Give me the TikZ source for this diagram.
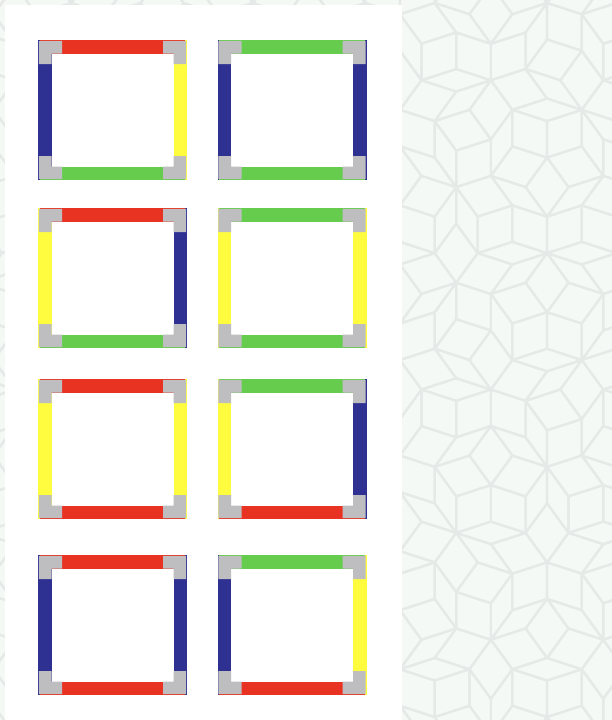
\documentclass[tikz,border=0pt]{standalone}
\usepackage{tikz}
\definecolor{tred}{RGB}{232,50,34}
\definecolor{tblue}{RGB}{46,49,146}
\definecolor{tyellow}{RGB}{255,252,64}
\definecolor{tgreen}{RGB}{102,204,78}
\definecolor{tgray}{RGB}{190,190,193}
\definecolor{bgfill}{RGB}{244,249,246}
\definecolor{bgline}{RGB}{229,233,231}
\makeatletter
\def\pgo{0.618034}
\def\pcx{400}\def\pcy{360}\def\pR{655}
\gdef\Tlist{}
\gdef\newlist{}
\def\addtri#1#2#3#4#5#6#7{%
  \pgfmathsetmacro\mnx{min(#2,#4,#6)}%
  \pgfmathsetmacro\mxx{max(#2,#4,#6)}%
  \pgfmathsetmacro\mny{min(#3,#5,#7)}%
  \pgfmathsetmacro\mxy{max(#3,#5,#7)}%
  \@tempswatrue
  \ifdim\mnx pt>620pt \@tempswafalse\fi
  \ifdim\mxx pt<-8pt \@tempswafalse\fi
  \ifdim\mny pt>728pt \@tempswafalse\fi
  \ifdim\mxy pt<-8pt \@tempswafalse\fi
  \ifdim\mnx pt>8pt \ifdim\mxx pt<398pt \ifdim\mny pt>8pt \@tempswafalse\fi\fi\fi
  \if@tempswa
    \xdef\newlist{\unexpanded\expandafter{\newlist}\noexpand\T{#1}{#2}{#3}{#4}{#5}{#6}{#7}}%
  \fi}
\def\subT#1#2#3#4#5#6#7{%
  \ifnum#1=0\relax
    \pgfmathsetmacro\Px{#2+((#4)-(#2))*\pgo}%
    \pgfmathsetmacro\Py{#3+((#5)-(#3))*\pgo}%
    \addtri{0}{#6}{#7}{\Px}{\Py}{#4}{#5}%
    \addtri{1}{\Px}{\Py}{#6}{#7}{#2}{#3}%
  \else
    \pgfmathsetmacro\Qx{#4+((#2)-(#4))*\pgo}%
    \pgfmathsetmacro\Qy{#5+((#3)-(#5))*\pgo}%
    \pgfmathsetmacro\Rx{#4+((#6)-(#4))*\pgo}%
    \pgfmathsetmacro\Ry{#5+((#7)-(#5))*\pgo}%
    \addtri{1}{\Rx}{\Ry}{#6}{#7}{#2}{#3}%
    \addtri{1}{\Qx}{\Qy}{\Rx}{\Ry}{#4}{#5}%
    \addtri{0}{\Rx}{\Ry}{\Qx}{\Qy}{#2}{#3}%
  \fi}
\def\subdivide{\gdef\newlist{}\let\T\subT\Tlist\global\let\Tlist\newlist}
\foreach \i in {0,...,9}{%
  \pgfmathsetmacro\Bx{\pcx+\pR*cos((2*\i-1)*18)}%
  \pgfmathsetmacro\By{\pcy+\pR*sin((2*\i-1)*18)}%
  \pgfmathsetmacro\Cx{\pcx+\pR*cos((2*\i+1)*18)}%
  \pgfmathsetmacro\Cy{\pcy+\pR*sin((2*\i+1)*18)}%
  \ifodd\i
    \xdef\Tlist{\unexpanded\expandafter{\Tlist}\noexpand\T{0}{\pcx}{\pcy}{\Bx}{\By}{\Cx}{\Cy}}%
  \else
    \xdef\Tlist{\unexpanded\expandafter{\Tlist}\noexpand\T{0}{\pcx}{\pcy}{\Cx}{\Cy}{\Bx}{\By}}%
  \fi
}
\subdivide\subdivide\subdivide\subdivide\subdivide\subdivide
\def\drawT#1#2#3#4#5#6#7{\draw[bgl] (#6,#7) -- (#2,#3) -- (#4,#5);}
\makeatother
\def\tlW{149}\def\tlH{140}\def\tlT{13.5}\def\tlC{24}\def\tlO{0.8}
\newcommand\tlcorner{%
  \fill[tgray] (\tlO,\tlO) -- (\tlC,\tlO) -- (\tlC,\tlT) -- (\tlT,\tlT) -- (\tlT,\tlC) -- (\tlO,\tlC) -- cycle;}
\newcommand\tilebox[7]{%
  \begin{scope}[shift={(#2,#3)}]
    \coordinate (#1) at (0,0);
    \fill[#7] (0,0) rectangle (\tlT,\tlH);
    \fill[#5] (\tlW-\tlT,0) rectangle (\tlW,\tlH);
    \fill[#4] (\tlO+1,0) rectangle (\tlW-\tlO-1,\tlT);
    \fill[#6] (\tlO+1,\tlH-\tlT) rectangle (\tlW-\tlO-1,\tlH);
    \tlcorner
    \begin{scope}[shift={(\tlW,0)},xscale=-1]\tlcorner\end{scope}
    \begin{scope}[shift={(0,\tlH)},yscale=-1]\tlcorner\end{scope}
    \begin{scope}[shift={(\tlW,\tlH)},xscale=-1,yscale=-1]\tlcorner\end{scope}
  \end{scope}}
\begin{document}
\begin{tikzpicture}[x=1pt,y=-1pt,
  bgl/.style={draw=bgline,line width=2.2pt,line cap=round,line join=round}]
\useasboundingbox (0,0) rectangle (612,720);
\fill[bgfill] (0,0) rectangle (612,720);
\begin{scope}
  \clip (0,0) rectangle (612,720);
  \let\T\drawT
  \Tlist
\end{scope}
\fill[white] (5,5) rectangle (402,720);
\tilebox{t11}{38}{40}{tred}{tyellow}{tgreen}{tblue}
\tilebox{t12}{217.5}{40}{tgreen}{tblue}{tgreen}{tblue}
\tilebox{t21}{38}{208}{tred}{tblue}{tgreen}{tyellow}
\tilebox{t22}{217.5}{208}{tgreen}{tyellow}{tgreen}{tyellow}
\tilebox{t31}{38}{379}{tred}{tyellow}{tred}{tyellow}
\tilebox{t32}{217.5}{379}{tgreen}{tblue}{tred}{tyellow}
\tilebox{t41}{38}{555}{tred}{tblue}{tred}{tblue}
\tilebox{t42}{217.5}{555}{tgreen}{tyellow}{tred}{tblue}
\end{tikzpicture}
\end{document}
